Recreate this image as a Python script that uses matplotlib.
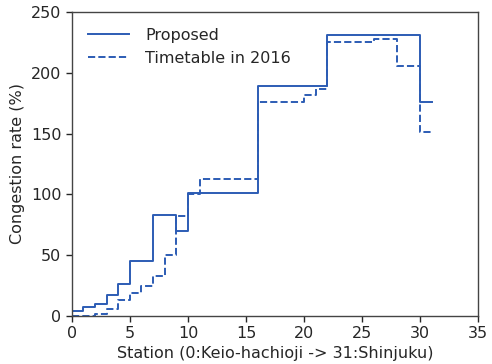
import matplotlib.pyplot as plt
import numpy as np

# Station index (0:Keio-hachioji -> 31:Shinjuku), value holds until next station
stations = list(range(32))

proposed = [4, 7, 10, 17, 26, 45, 45, 83, 83, 70,
            101, 101, 101, 101, 101, 101, 189, 189, 189, 189,
            189, 189, 231, 231, 231, 231, 231, 231, 231, 231,
            176, 176]

timetable_2016 = [0, 0, 2, 6, 13, 19, 25, 33, 50, 82,
                  100, 113, 113, 113, 113, 113, 176, 176, 176, 176,
                  182, 187, 225, 225, 225, 225, 228, 228, 206, 206,
                  151, 151]

color = "#2c5cb4"
text_color = "#262626"

plt.rcParams["font.family"] = "DejaVu Sans"
plt.rcParams["font.size"] = 11.5
plt.rcParams["text.color"] = text_color
plt.rcParams["axes.labelcolor"] = text_color
plt.rcParams["xtick.color"] = text_color
plt.rcParams["ytick.color"] = text_color

fig = plt.figure(figsize=(4.92, 3.64), dpi=100)
ax = fig.add_axes([0.146, 0.132, 0.826, 0.835])

ax.step(stations, proposed, where="post", color=color, linewidth=1.4, label="Proposed")
ax.step(stations, timetable_2016, where="post", color=color, linewidth=1.4,
        linestyle="--", label="Timetable in 2016")

ax.set_xlim(0, 35)
ax.set_ylim(0, 250)
ax.set_xticks(np.arange(0, 36, 5))
ax.set_yticks(np.arange(0, 251, 50))
ax.set_xlabel("Station (0:Keio-hachioji -> 31:Shinjuku)", labelpad=3)
ax.set_ylabel("Congestion rate (%)")

for s in ax.spines.values():
    s.set_color("#444444")
    s.set_linewidth(1.0)
ax.tick_params(direction="out", length=4, width=1, colors=text_color)

ax.legend(loc="upper left", frameon=False, handlelength=2.6, handletextpad=1.0,
          borderaxespad=0.6)

fig.savefig("out.png", dpi=100)
